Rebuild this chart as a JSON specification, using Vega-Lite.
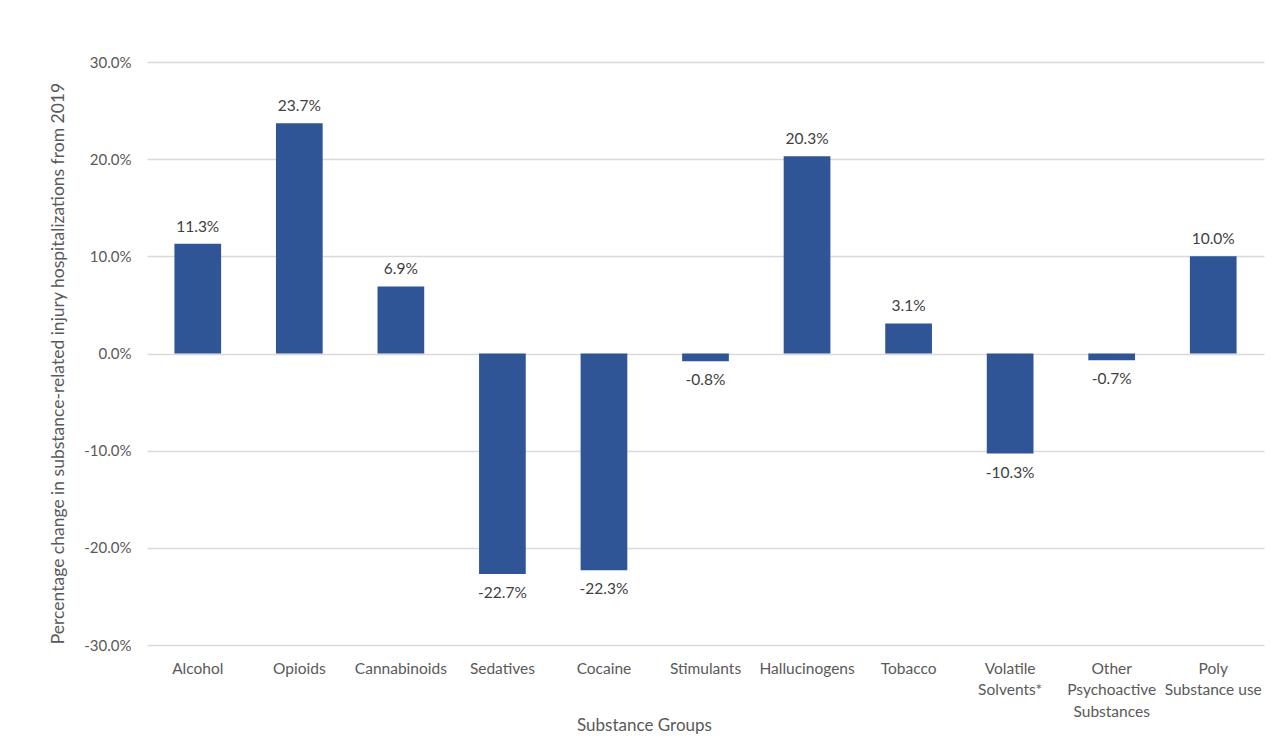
{
  "$schema": "https://vega.github.io/schema/vega-lite/v6.json",
  "width": 1117,
  "height": 583,
  "autosize": {"type": "none"},
  "padding": {"left": 147, "top": 62, "right": 18, "bottom": 106},
  "background": "white",
  "config": {
    "view": {"stroke": null},
    "font": "Lato",
    "locale": {
      "number": {"decimal": ".", "thousands": ",", "grouping": [3], "currency": ["$", ""], "minus": "-"}
    }
  },
  "data": {
    "values": [
      {"group": "Alcohol", "change": 0.113},
      {"group": "Opioids", "change": 0.237},
      {"group": "Cannabinoids", "change": 0.069},
      {"group": "Sedatives", "change": -0.227},
      {"group": "Cocaine", "change": -0.223},
      {"group": "Stimulants", "change": -0.008},
      {"group": "Hallucinogens", "change": 0.203},
      {"group": "Tobacco", "change": 0.031},
      {"group": "Volatile|Solvents*", "change": -0.103},
      {"group": "Other|Psychoactive|Substances", "change": -0.007},
      {"group": "Poly|Substance use", "change": 0.1}
    ]
  },
  "encoding": {
    "x": {
      "field": "group",
      "type": "nominal",
      "sort": null,
      "scale": {"paddingInner": 0.54, "paddingOuter": 0.27},
      "axis": {
        "title": "Substance Groups",
        "labelAngle": 0,
        "domain": false,
        "ticks": false,
        "labelPadding": 16,
        "labelFontSize": 15.5,
        "labelColor": "#595959",
        "labelLineHeight": 21.5,
        "labelOverlap": false,
        "labelLimit": 200,
        "labelExpr": "split(datum.label, '|')",
        "titleFontSize": 17,
        "titleFontWeight": "normal",
        "titleColor": "#595959",
        "titleX": 497,
        "titleY": 80,
        "titleBaseline": "middle"
      }
    }
  },
  "layer": [
    {
      "mark": {"type": "bar", "color": "#2F5597"},
      "encoding": {
        "y": {
          "field": "change",
          "type": "quantitative",
          "scale": {"domain": [-0.3, 0.3], "nice": false},
          "axis": {
            "title": "Percentage change in  substance-related injury hospitalizations from 2019",
            "values": [-0.3, -0.2, -0.1, 0, 0.1, 0.2, 0.3],
            "format": ".1%",
            "domain": false,
            "ticks": false,
            "grid": true,
            "gridColor": "#D9D9D9",
            "gridWidth": 1.3,
            "labelPadding": 16,
            "labelFontSize": 15,
            "labelColor": "#595959",
            "titleFontSize": 17.5,
            "titleFontWeight": "normal",
            "titleColor": "#595959",
            "titleX": -89,
            "titleY": 301,
            "titleBaseline": "middle"
          }
        }
      }
    },
    {
      "transform": [{"filter": "datum.change >= 0"}],
      "mark": {"type": "text", "baseline": "bottom", "dy": -9, "fontSize": 15.5, "color": "#404040"},
      "encoding": {
        "y": {"field": "change", "type": "quantitative"},
        "text": {"field": "change", "type": "quantitative", "format": ".1%"}
      }
    },
    {
      "transform": [{"filter": "datum.change < 0"}],
      "mark": {"type": "text", "baseline": "top", "dy": 12, "fontSize": 15.5, "color": "#404040"},
      "encoding": {
        "y": {"field": "change", "type": "quantitative"},
        "text": {"field": "change", "type": "quantitative", "format": ".1%"}
      }
    }
  ]
}
